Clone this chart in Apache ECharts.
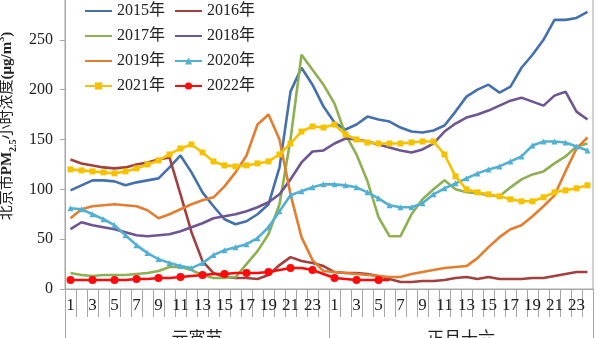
<!DOCTYPE html>
<html>
<head>
<meta charset="utf-8">
<script src="https://cdn.jsdelivr.net/npm/echarts@6/dist/echarts.min.js"></script>
<style>html,body{margin:0;padding:0;background:#fff;}#c{width:600px;height:338px;}</style>
</head>
<body>
<div id="c"></div>
<script>
const hours = ['1','2','3','4','5','6','7','8','9','10','11','12','13','14','15','16','17','18','19','20','21','22','23','24',
               '1','2','3','4','5','6','7','8','9','10','11','12','13','14','15','16','17','18','19','20','21','22','23','24'];
const days = ['元宵节', '正月十六'];
const seriesNames = ['2015年','2016年','2017年','2018年','2019年','2020年','2021年','2022年'];

const y2015 = [99,104,109,109,108,104,107,109,111,122,134,117,97,83,70,65,68,75,85,122,198,222,205,183,
               167,160,165,173,170,168,162,158,157,159,164,178,193,200,205,197,203,222,235,250,270,270,272,278];
const y2016 = [130,126,124,122,121,122,125,127,130,132,95,57,28,16,12,11,11,10,14,24,32,28,26,23,
               17,16,16,15,13,10,7,7,8,8,9,11,12,10,12,10,10,10,11,11,13,15,17,17];
const y2017 = [16,14,13,14,14,14,15,16,18,22,22,19,14,11,11,12,25,38,55,85,150,235,220,205,
               186,155,135,108,72,53,53,75,90,100,109,100,97,96,94,93,102,110,115,118,126,133,143,146];
const y2018 = [60,67,64,62,60,57,54,53,54,55,58,62,66,71,73,75,78,82,87,95,110,127,138,139,
               146,151,150,148,145,142,139,137,140,146,158,166,172,175,179,184,189,192,188,184,194,198,178,170];
const y2019 = [71,80,83,84,85,84,83,79,71,75,80,85,89,92,103,117,134,165,175,150,95,52,29,18,
               17,16,15,14,13,12,12,15,17,19,21,22,23,31,42,52,60,64,73,83,94,118,141,152];
const y2020 = [81,80,75,70,64,54,44,36,30,26,23,21,26,34,39,42,45,51,62,78,94,98,102,105,
               105,104,102,97,91,84,82,82,86,95,101,106,111,116,120,123,128,133,144,148,148,147,143,139];
const y2021 = [120,119,118,117,116,118,121,125,129,135,141,145,137,128,124,123,124,126,128,135,146,158,163,162,
               165,155,150,147,146,146,146,147,148,148,135,113,100,97,95,93,90,88,88,92,97,99,101,104];
const y2022 = [9,9,9,9,9,9,10,10,11,11,12,13,14,15,15,16,16,16,17,19,21,21,19,15,
               11,10,9,9,9,9,null,null,null,null,null,null,null,null,null,null,null,null,null,null,null,null,null,null];
const yTicks = [0, 50, 100, 150, 200, 250];

const values = [y2015, y2016, y2017, y2018, y2019, y2020, y2021, y2022];
const colors = ['#4470AD','#A1403E','#8DB152','#6E5592','#E47D2F','#52B0D3','#F6C200','#FF0A0A'];
const symbols = ['none','none','none','none','none','triangle','rect','circle'];
const symbolSizes = [0,0,0,0,0,6,6,8];

const SERIF = "'Liberation Serif','Noto Sans CJK SC',serif";
const chart = echarts.init(document.getElementById('c'), null, {renderer: 'canvas'});

const series = seriesNames.map((n, k) => ({
  name: n,
  type: 'line',
  data: values[k],
  xAxisIndex: 0,
  color: colors[k],
  symbol: symbols[k],
  symbolSize: symbolSizes[k],
  showSymbol: symbols[k] !== 'none',
  connectNulls: false,
  lineStyle: {width: 2.6, color: colors[k]},
  itemStyle: {color: colors[k]},
  animation: false,
  z: 2 + k
}));

const legendData = seriesNames.map((n, k) => (
  symbols[k] === 'none' ? {name: n, itemStyle: {opacity: 0}} : {name: n}
));

chart.setOption({
  backgroundColor: '#fff',
  animation: false,
  grid: {left: 65, right: 7, top: -10, bottom: 49, outerBoundsMode: 'none', containLabel: false,
         show: true, borderColor: '#a6a6a6', borderWidth: 1, backgroundColor: 'transparent'},
  legend: {
    left: 84, top: 3, width: 190, padding: 0,
    itemWidth: 27, itemHeight: 9, itemGap: 9,
    selectedMode: false,
    data: legendData,
    textStyle: {fontFamily: SERIF, fontSize: 16, color: '#222', lineHeight: 13}
  },
  xAxis: [{
    type: 'category',
    data: hours,
    position: 'bottom',
    boundaryGap: true,
    axisLine: {show: true, lineStyle: {color: '#a6a6a6', width: 1}},
    axisTick: {show: true, interval: 0, length: 28, lineStyle: {color: '#a6a6a6'}},
    axisLabel: {interval: 1, margin: 8, fontFamily: SERIF, fontSize: 17, color: '#222'},
    splitLine: {show: false}
  }, {
    type: 'category',
    data: days,
    position: 'bottom',
    boundaryGap: true,
    axisLine: {show: false},
    axisTick: {show: true, interval: 0, length: 49, lineStyle: {color: '#a6a6a6'}},
    axisLabel: {interval: 0, margin: 42, fontFamily: SERIF, fontSize: 17, color: '#222'},
    splitLine: {show: false}
  }],
  yAxis: {
    type: 'value',
    min: 0, max: 300, interval: 50,
    axisLine: {show: true, lineStyle: {color: '#a6a6a6', width: 1}},
    axisTick: {show: true, length: 5, lineStyle: {color: '#a6a6a6'}},
    axisLabel: {margin: 12, fontFamily: SERIF, fontSize: 16, color: '#222',
      formatter: v => (yTicks.indexOf(v) >= 0 ? String(v) : '')},
    splitLine: {show: false},
    name: '{a|北京市}{b|PM}{s|2.5}{a|小时浓度}{b|(μg/m}{p|3}{b|)}',
    nameLocation: 'middle',
    nameRotate: 90,
    nameGap: 43,
    nameTextStyle: {
      padding: [0, 0, 0, 27],
      rich: {
        a: {fontFamily: SERIF, fontSize: 15, color: '#222'},
        b: {fontFamily: SERIF, fontSize: 15, fontWeight: 'bold', color: '#222'},
        s: {fontFamily: SERIF, fontSize: 10, fontWeight: 'bold', color: '#222', verticalAlign: 'bottom', lineHeight: 22},
        p: {fontFamily: SERIF, fontSize: 10, fontWeight: 'bold', color: '#222', verticalAlign: 'top', lineHeight: 22}
      }
    }
  },
  series: series
});
</script>
</body>
</html>
